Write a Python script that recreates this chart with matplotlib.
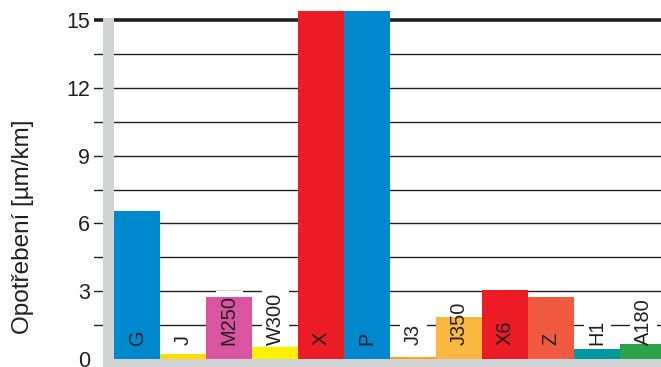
import matplotlib
matplotlib.use("Agg")
import matplotlib.pyplot as plt

plt.rcParams["font.family"] = ["Liberation Sans", "DejaVu Sans"]

# data
names = ["G", "J", "M250", "W300", "X", "P", "J3", "J350", "X6", "Z", "H1", "A180"]
values = [6.55, 0.22, 2.74, 0.53, 15.4, 15.4, 0.09, 1.86, 3.05, 2.74, 0.44, 0.66]
colors = ["#0088cf", "#ffdd00", "#d9559f", "#fff200", "#ed1c24", "#0088cf",
          "#f5a623", "#fbb840", "#ed1c24", "#ef5a40", "#00999f", "#2ba24c"]
major_ticks = [0, 3, 6, 9, 12, 15]
grid_levels = [1.5, 3, 4.5, 6, 7.5, 9, 10.5, 12, 13.5]

W, H = 661, 367
fig = plt.figure(figsize=(W / 100, H / 100), dpi=100)
ax = fig.add_axes([94 / W, 0, 1 - 94 / W, 1])

px = 46.0      # pixels per bar slot
py = 22.6      # pixels per unit
x0 = -0.5 - (114 - 94) / px
ax.set_xlim(x0, x0 + (W - 94) / px)
ax.set_ylim(-(H - 359) / py, -(H - 359) / py + H / py)

# grid
for g in grid_levels:
    ax.axhline(g, color="#231f20", lw=1.0, zorder=1)
ax.axhline(15, color="#231f20", lw=2.6, zorder=1)

# grey frame strips
ax.axvspan(-0.5 - 11 / px, -0.5, ymin=0, ymax=(15.1 + 8 / py) / (H / py),
           color="#d1d3d4", lw=0, zorder=1.2)
ax.axhspan(-(H - 359) / py, 0, xmin=(103 - 94) / (W - 94), xmax=1,
           color="#d1d3d4", lw=0, zorder=1.2)

xs = list(range(len(names)))
ax.bar(xs, values, width=1.0, color=colors, zorder=2, clip_on=True)

for x, n in zip(xs, names):
    # white box under the bars to break the grid lines
    ax.text(x, 0.6, n, rotation=90, ha="center", va="bottom", fontsize=14.4,
            color=(1, 1, 1, 0), zorder=1.5,
            bbox=dict(boxstyle="square,pad=0.2", fc="white", ec="none"))
    ax.text(x, 0.6, n, rotation=90, ha="center", va="bottom", fontsize=14.4,
            color="#231f20", zorder=3)

ax.set_yticks(major_ticks)
ax.set_yticklabels([str(t) for t in major_ticks], fontsize=15.5, color="#231f20")
ax.tick_params(axis="y", length=0, pad=3)
ax.set_xticks([])
for s in ax.spines.values():
    s.set_visible(False)

fig.text(23 / W, 1 - 227 / H, "Opotřebení [µm/km]", rotation=90,
         ha="center", va="center", fontsize=17.5, color="#231f20")

fig.savefig("out.png", dpi=100)
